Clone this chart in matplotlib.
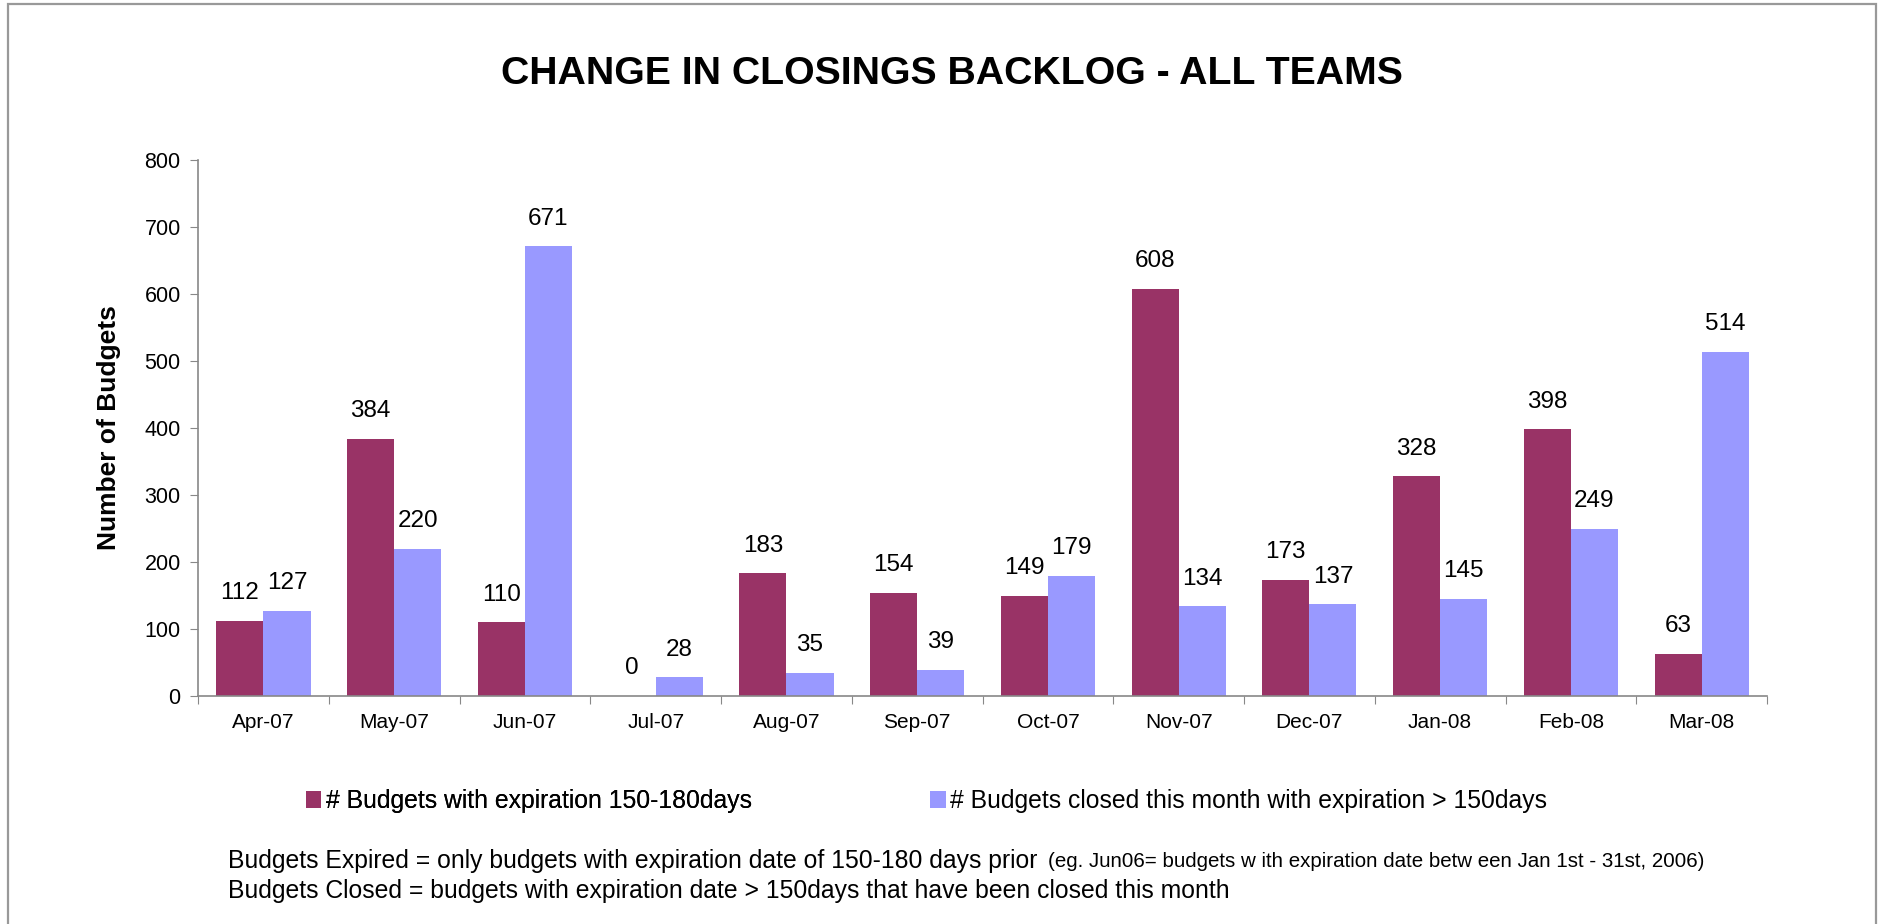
import numpy as np
import matplotlib.pyplot as plt
from matplotlib.patches import Rectangle

plt.rcParams['font.family'] = ['Liberation Sans', 'DejaVu Sans']

months = ['Apr-07', 'May-07', 'Jun-07', 'Jul-07', 'Aug-07', 'Sep-07',
          'Oct-07', 'Nov-07', 'Dec-07', 'Jan-08', 'Feb-08', 'Mar-08']
expiring = [112, 384, 110, 0, 183, 154, 149, 608, 173, 328, 398, 63]
closed = [127, 220, 671, 28, 35, 39, 179, 134, 137, 145, 249, 514]

lbl_exp = '# Budgets with expiration 150-180days'
lbl_closed = '# Budgets closed this month with expiration > 150days'

c_exp = '#993366'
c_closed = '#9999FF'

fig = plt.figure(figsize=(18.83, 9.24), dpi=100)
ax = fig.add_axes([0.1052, 0.2468, 0.8332, 0.580])

x = np.arange(len(months))
w = 0.36
b1 = ax.bar(x - w/2, expiring, w, color=c_exp, label=lbl_exp)
b2 = ax.bar(x + w/2, closed, w, color=c_closed, label=lbl_closed)

for bars in (b1, b2):
    for r in bars:
        ax.annotate(f'{int(r.get_height())}', (r.get_x() + r.get_width()/2, r.get_height()),
                    xytext=(0, 12), textcoords='offset points', ha='center', va='bottom',
                    fontsize=17.5)

ax.set_xlim(-0.5, len(months) - 0.5)
ax.set_ylim(0, 800)
ax.set_yticks(range(0, 801, 100))

# tick marks at category boundaries, labels at centers
ax.set_xticks(np.arange(-0.5, len(months), 1))
ax.set_xticklabels([])
ax.set_xticks(x, minor=True)
ax.set_xticklabels(months, minor=True)
ax.tick_params(axis='x', which='minor', length=0, pad=12, labelsize=15)
ax.tick_params(axis='x', which='major', length=6, color='#888888')
ax.tick_params(axis='y', length=6, color='#888888', labelsize=15.5, pad=6.5)

for s in ('top', 'right'):
    ax.spines[s].set_visible(False)
for s in ('left', 'bottom'):
    ax.spines[s].set_color('#888888')
    ax.spines[s].set_linewidth(1.2)

ax.set_ylabel('Number of Budgets', fontsize=19, fontweight='bold', labelpad=17)

fig.text(0.5055, 0.92, 'CHANGE IN CLOSINGS BACKLOG - ALL TEAMS', ha='center', va='center',
         fontsize=28.3, fontweight='bold')

# legend entries placed separately, like the original
leg_kw = dict(loc='center left', frameon=False, fontsize=17.8, handlelength=0.62,
              handleheight=0.7, handletextpad=0.2, borderpad=0, borderaxespad=0)
leg1 = fig.legend(handles=[b1], bbox_to_anchor=(0.1625, 0.133), **leg_kw)
fig.add_artist(leg1)
fig.legend(handles=[b2], bbox_to_anchor=(0.494, 0.133), **leg_kw)

fig.text(0.121, 0.068, 'Budgets Expired = only budgets with expiration date of 150-180 days prior',
         fontsize=17.8, va='center')
fig.text(0.5567, 0.068, '(eg. Jun06= budgets w ith expiration date betw een Jan 1st - 31st, 2006)',
         fontsize=14.8, va='center')
fig.text(0.121, 0.0357, 'Budgets Closed = budgets with expiration date > 150days that have been closed this month',
         fontsize=17.8, va='center')

# outer frame
fig.patches.append(Rectangle((8/1883, -0.05), (1876-8)/1883, 1.05 - 4/924, transform=fig.transFigure,
                             fill=False, edgecolor='#999999', linewidth=1.6))

fig.savefig('out.png', dpi=100)
